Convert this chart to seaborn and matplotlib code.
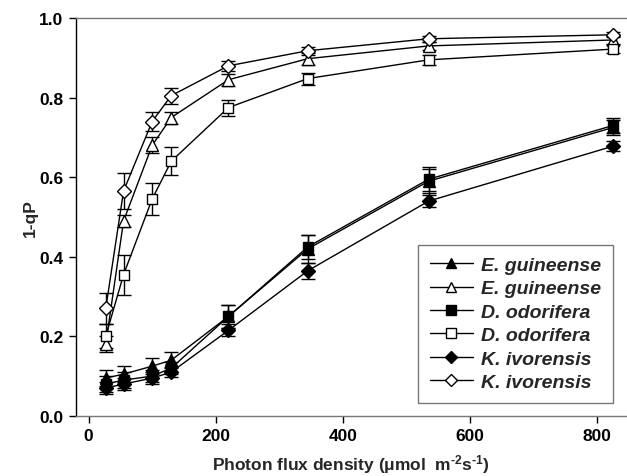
import matplotlib
matplotlib.use("Agg")
import matplotlib.pyplot as plt
import seaborn as sns
import numpy as np
import pandas as pd

pfd = [27, 55, 100, 130, 220, 345, 535, 825]

eg_filled = [0.095, 0.105, 0.125, 0.14, 0.25, 0.42, 0.59, 0.725]
eg_filled_err = [0.02, 0.02, 0.02, 0.02, 0.03, 0.035, 0.03, 0.02]
eg_open = [0.18, 0.49, 0.68, 0.75, 0.845, 0.898, 0.93, 0.945]
eg_open_err = [0.02, 0.015, 0.02, 0.015, 0.015, 0.015, 0.01, 0.01]
do_filled = [0.08, 0.09, 0.10, 0.12, 0.25, 0.425, 0.595, 0.73]
do_filled_err = [0.02, 0.02, 0.015, 0.015, 0.03, 0.03, 0.03, 0.02]
do_open = [0.20, 0.355, 0.545, 0.64, 0.775, 0.848, 0.895, 0.922]
do_open_err = [0.03, 0.05, 0.04, 0.035, 0.02, 0.015, 0.012, 0.01]
ki_filled = [0.07, 0.08, 0.095, 0.11, 0.215, 0.365, 0.54, 0.678]
ki_filled_err = [0.015, 0.015, 0.015, 0.012, 0.015, 0.02, 0.015, 0.012]
ki_open = [0.27, 0.565, 0.74, 0.805, 0.88, 0.918, 0.948, 0.958]
ki_open_err = [0.04, 0.045, 0.025, 0.02, 0.012, 0.01, 0.008, 0.006]

labels = ["E. guineense", "E. guineense", "D. odorifera", "D. odorifera",
          "K. ivorensis", "K. ivorensis"]

series = [
    (eg_filled, eg_filled_err, "^", "black", 8),
    (eg_open, eg_open_err, "^", "white", 8),
    (do_filled, do_filled_err, "s", "black", 7.5),
    (do_open, do_open_err, "s", "white", 7.5),
    (ki_filled, ki_filled_err, "D", "black", 7),
    (ki_open, ki_open_err, "D", "white", 7),
]

sns.set_style("ticks")
plt.rcParams['font.family'] = ['Liberation Sans', 'DejaVu Sans']
plt.rcParams['mathtext.fontset'] = 'custom'
plt.rcParams['mathtext.rm'] = 'Liberation Sans:bold'
plt.rcParams['mathtext.bf'] = 'Liberation Sans:bold'
plt.rcParams['mathtext.default'] = 'rm'

fig = plt.figure(figsize=(6.27, 4.77), dpi=100)
ax = fig.add_axes([0.121, 0.126, 0.879, 0.834])

handles = []
for (vals, errs, mk, fc, ms), lab in zip(series, labels):
    df = pd.DataFrame({"x": pfd, "y": vals})
    ax.errorbar(pfd, vals, yerr=errs, fmt="none", ecolor="black",
                elinewidth=1.0, capsize=5, capthick=1.0, zorder=2)
    sns.lineplot(data=df, x="x", y="y", ax=ax, color="black", lw=1.0,
                 marker=mk, markersize=ms, markerfacecolor=fc,
                 markeredgecolor="black", markeredgewidth=1.0, zorder=3)
    h, = ax.plot([], [], color="black", lw=1.0, marker=mk, markersize=ms - 1,
                 markerfacecolor=fc, markeredgecolor="black")
    handles.append(h)

ax.set_xlim(-20, 847)
ax.set_ylim(0, 1.0)
ax.set_xticks([0, 200, 400, 600, 800])
ax.set_yticks([0.0, 0.2, 0.4, 0.6, 0.8, 1.0])
ax.set_yticklabels(["0.0", "0.2", "0.4", "0.6", "0.8", "1.0"])

for lab in ax.get_xticklabels() + ax.get_yticklabels():
    lab.set_fontweight("bold")
    lab.set_fontsize(12.5)

ax.tick_params(axis="both", direction="out", length=5, width=1, colors="black", pad=4)
ax.spines["right"].set_visible(False)
ax.spines["top"].set_color("#777777")
ax.spines["bottom"].set_color("#777777")
ax.spines["left"].set_color("black")
for s in ["top", "bottom", "left"]:
    ax.spines[s].set_linewidth(1.0)

ax.set_xlabel(r"Photon flux density (μmol  m$^{\text{-2}}$s$^{\text{-1}}$)",
              fontsize=12.5, fontweight="bold", labelpad=6)
ax.set_ylabel("1-qP", fontsize=12.5, fontweight="bold", labelpad=1)

leg = ax.legend(handles, labels, loc="lower right", bbox_to_anchor=(0.975, 0.033),
                frameon=True, fancybox=False, edgecolor="#555555",
                handlelength=2.2, handletextpad=0.45, labelspacing=0.3,
                borderpad=0.6, borderaxespad=0,
                prop={"family": "Liberation Sans", "weight": "bold", "style": "italic", "size": 14})
leg.get_frame().set_linewidth(1.0)

fig.savefig("out.png", dpi=100)
